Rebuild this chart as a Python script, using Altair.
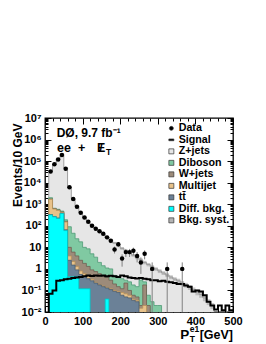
import json
import altair as alt
import pandas as pd

FONT = "Liberation Sans"

# ---------------- data (10 GeV bins, lower edges 0..490) ----------------
bin_lo = list(range(0, 500, 10))

# stack tops (cumulative, from bottom: Diff. bkg, ttbar, Multijet, W+jets, Diboson, Z+jets)
zjets_top = [0, 35000, 75000, 130000, 210000, 48000, 6500, 1800, 800, 420,
             250, 160, 105, 75, 55, 40, 30, 22, 16, 12,
             9, 7, 5.5, 4.3, 3.3, 2.6, 2.0, 1.6, 1.25, 1.0,
             0.8, 0.65, 0.52, 0.42, 0.34, 0.28, 0.22, 0.18, 0.14, 0.11,
             0.085, 0.065, 0.045, 0.03, 0.02, 0.008, 0, 0, 0, 0]
diboson_top = [0, 2000, 650, 580, 480, 190, 90, 45, 25, 18,
               10, 8.5, 5, 3.5, 2.0, 1.4, 1.1, 1.0, 0.5, 0.45,
               0.35, 0.3, 0.25, 0.18, 0.15, 0.3, 0.25, 0.06, 0.03, 0.02,
               0.02, 0, 0, 0, 0, 0, 0, 0, 0, 0,
               0, 0, 0, 0, 0, 0, 0, 0, 0, 0]
wjets_top = [0, 1750, 620, 540, 440, 160, 10, 6, 4, 2.5,
             1.8, 1.3, 0.9, 0.75, 0.6, 0.45, 0.4, 0.3, 0.2, 0.15,
             0.12, 0.22, 0.1, 0.06, 0.05, 0.02, 0.18, 0.02, 0, 0,
             0, 0, 0, 0, 0, 0, 0, 0, 0, 0,
             0, 0, 0, 0, 0, 0, 0, 0, 0, 0]
multijet_top = [0, 1700, 600, 520, 420, 150, 4, 2.2, 1.3, 0.8,
                0.6, 0.45, 0.33, 0.24, 0.19, 0.16, 0.14, 0.12, 0.1, 0.09,
                0.08, 0.07, 0.06, 0.04, 0.035, 0.015, 0.02, 0, 0, 0,
                0, 0, 0, 0, 0, 0, 0, 0, 0, 0,
                0, 0, 0, 0, 0, 0, 0, 0, 0, 0]
ttbar_top = [0, 330, 270, 230, 380, 65, 2.5, 1.5, 0.9, 0.55,
             0.45, 0.35, 0.28, 0.22, 0.18, 0.15, 0.13, 0.11, 0.09, 0.08,
             0.06, 0.05, 0.045, 0.035, 0.03, 0, 0, 0, 0, 0,
             0, 0, 0, 0, 0, 0, 0, 0, 0, 0,
             0, 0, 0, 0, 0, 0, 0, 0, 0, 0]
diffbkg_top = [0, 320, 260, 220, 370, 60, 0.43, 0.43, 0.43, 0.12,
               0.12, 0.12, 0, 0, 0, 0, 0.04, 0, 0, 0,
               0, 0, 0, 0, 0, 0, 0, 0, 0, 0,
               0, 0, 0, 0, 0, 0, 0, 0, 0, 0,
               0, 0, 0, 0, 0, 0, 0, 0, 0, 0]
signal = [0, 0.07, 0.1, 0.28, 0.3, 0.33, 0.35, 0.38, 0.4, 0.42,
          0.45, 0.5, 0.47, 0.5, 0.48, 0.5, 0.45, 0.48, 0.45, 0.42,
          0.5, 0.45, 0.4, 0.38, 0.36, 0.38, 0.35, 0.33, 0.3, 0.3,
          0.27, 0.28, 0.25, 0.24, 0.22, 0.2, 0.2, 0.17, 0.15, 0.09,
          0.1, 0.09, 0.06, 0.03, 0.02, 0.013, 0.02, 0.012, 0.02, 0.012]
data_counts = [0, 33000, 72000, 120000, 190000, 44000, 6100, 1750, 770, 400,
               245, 155, 100, 72, 56, 43, 29, 20, 8, 14,
               3, 6, 6, 7, 4, 2, 5, 0, 1, 0,
               0, 0, 1, 0, 0, 0, 1, 0, 0, 0,
               0, 0, 0, 0, 0, 0, 0, 0, 0, 0]
syst_frac = [0.08] * 15 + [0.12] * 5 + [0.15] * 5 + [0.18] * 5 + [0.2] * 5 + [0.25] * 5 + [0.3] * 10

# axis ticks / labels
y_major = [1e-2, 1e-1, 1, 10, 1e2, 1e3, 1e4, 1e5, 1e6, 1e7]
y_labels = ["10⁻²", "10⁻¹", "1", "10", "10²", "10³", "10⁴", "10⁵", "10⁶", "10⁷"]
y_minor = [m * 10.0 ** e for e in range(-2, 7) for m in range(2, 10)]
x_major = [0, 100, 200, 300, 400, 500]
x_minor = [20, 40, 60, 80, 120, 140, 160, 180, 220, 240, 260, 280, 320, 340, 360, 380, 420, 440, 460, 480]

# legend
legend_labels = ["Data", "Signal", "Z+jets", "Diboson", "W+jets", "Multijet", "tt̄", "Diff. bkg.", "Bkg. syst."]
legend_colors = ["#000000", "#000000", "#e6e6e6", "#80c9a2", "#9c8b7a", "#e8c28a", "#6b8197", "#00ffff", "#b4b4b4"]
CIRCLE = "M-0.8,0A0.8,0.8 0 1,0 0.8,0A0.8,0.8 0 1,0 -0.8,0Z"
BAR = "M-1,-0.35H1V0.35H-1Z"
legend_shapes = [CIRCLE, BAR] + ["square"] * 7

# annotations (x in GeV, y in events)
ann_text = ["DØ, 9.7 fb⁻¹", "ee", "+", "E", "/", "T"]
ann_x = [31, 32, 88, 138, 144, 162]
ann_y = [1.31e6, 2.6e5, 2.6e5, 2.6e5, 2.6e5, 1.9e5]
ann_size = [12, 12.5, 12.5, 12.5, 12.5, 8.5]

xt_text = ["P", "e1", "T", "[GeV]"]
xt_x = [360, 385, 385, 500]
xt_px = [221, 213.5, 224, 221]
xt_size = [13.5, 8.5, 8.5, 12.5]
xt_align = ["left", "left", "left", "right"]

# ---------------- build tables ----------------
FLOOR = 1e-5
W, H = 188, 194


def stepvals(vals):
    v = [x if x > 0 else FLOOR for x in vals]
    return v + [v[-1]]


stack_df = pd.DataFrame({
    "x": bin_lo + [500],
    "base": FLOOR,
    "z": stepvals(zjets_top),
    "db": stepvals(diboson_top),
    "wj": stepvals(wjets_top),
    "mj": stepvals(multijet_top),
    "tt": stepvals(ttbar_top),
    "df": stepvals(diffbkg_top),
    "sig": stepvals(signal),
})

band_df = pd.DataFrame({
    "lo": bin_lo,
    "hi": [b + 10 for b in bin_lo],
    "tot": zjets_top,
    "f": syst_frac,
})
band_df = band_df[band_df.tot > 0].copy()
band_df["ylo"] = band_df.tot * (1 - band_df.f)
band_df["yhi"] = band_df.tot * (1 + band_df.f)

data_df = pd.DataFrame({"c": [b + 5 for b in bin_lo], "n": data_counts})
data_df = data_df[data_df.n > 0].copy()
data_df["elo"] = [max(n - n ** 0.5, FLOOR) for n in data_df.n]
data_df["ehi"] = [n + n ** 0.5 for n in data_df.n]

ann_df = pd.DataFrame({"t": ann_text, "x": ann_x, "y": ann_y, "s": ann_size})
xt_df = pd.DataFrame({"t": xt_text, "x": xt_x, "py": xt_px, "s": xt_size, "a": xt_align})
leg_df = pd.DataFrame({"label": legend_labels, "x": [0] * 9, "y": [1e-7] * 9})

xscale = alt.Scale(domain=[0, 500], nice=False, zero=False)
yscale = alt.Scale(type="log", domain=[1e-2, 1e7], nice=False)

label_expr = json.dumps(y_labels, ensure_ascii=False) + "[round(log(datum.value)/LN10)+2]"

main_y = alt.Axis(orient="left", values=y_major, labelExpr=label_expr, ticks=False, domain=False, grid=False,
                  labelFont=FONT, labelFontSize=11, labelFontWeight="bold", labelColor="black",
                  labelPadding=4, labelOverlap=False,
                  title="Events/10 GeV", titleFont=FONT, titleFontSize=12, titleFontWeight="bold",
                  titleColor="black", titleAngle=270, titleX=-28, titleY=5, titleAlign="right",
                  titleBaseline="middle")
main_x = alt.Axis(orient="bottom", values=x_major, ticks=False, domain=False, grid=False,
                  labelFont=FONT, labelFontSize=11, labelFontWeight="bold", labelColor="black",
                  labelPadding=3, labelFlush=False, labelOverlap=False, title=None)


def tick_axis(orient, values, size):
    return alt.Axis(orient=orient, values=values, labels=False, domain=False, grid=False, ticks=True,
                    tickSize=size, offset=-size, tickColor="black", tickWidth=1, title=None)


def area_layer(field, fill, stroke, xaxis, yaxis):
    return alt.Chart(stack_df).mark_area(
        interpolate="step-after", fill=fill, stroke=stroke, strokeWidth=0.8, clip=True, opacity=1
    ).encode(
        x=alt.X("x:Q", scale=xscale, axis=xaxis),
        y=alt.Y(f"{field}:Q", scale=yscale, axis=yaxis),
        y2="base:Q",
    )


layers = [
    area_layer("z", "#e6e6e6", "#8c8c8c", main_x, main_y),
    area_layer("db", "#80c9a2", "#4f9a76", tick_axis("bottom", x_major, 6), tick_axis("left", y_major, 6)),
    area_layer("wj", "#9c8b7a", "#6e5f52", tick_axis("bottom", x_minor, 3), tick_axis("left", y_minor, 3)),
    area_layer("mj", "#e8c28a", "#b8925a", tick_axis("top", x_major, 6), tick_axis("right", y_major, 6)),
    area_layer("tt", "#6b8197", "#4a5d70", tick_axis("top", x_minor, 3), tick_axis("right", y_minor, 3)),
    area_layer("df", "#00ffff", "#00c4c4", None, None),
]

band = alt.Chart(band_df).mark_rect(fill="#9a9a9a", opacity=0.55, clip=True).encode(
    x=alt.X("lo:Q", scale=xscale, axis=None), x2="hi:Q",
    y=alt.Y("ylo:Q", scale=yscale, axis=None), y2="yhi:Q")

sig = alt.Chart(stack_df).mark_line(interpolate="step-after", color="black", strokeWidth=2, clip=True).encode(
    x=alt.X("x:Q", scale=xscale, axis=None),
    y=alt.Y("sig:Q", scale=yscale, axis=None))

err = alt.Chart(data_df).mark_rule(color="#808080", strokeWidth=1, clip=True).encode(
    x=alt.X("c:Q", scale=xscale, axis=None),
    y=alt.Y("elo:Q", scale=yscale, axis=None), y2="ehi:Q")

pts = alt.Chart(data_df).mark_circle(color="black", size=20, opacity=1, clip=True).encode(
    x=alt.X("c:Q", scale=xscale, axis=None),
    y=alt.Y("n:Q", scale=yscale, axis=None))

ann = alt.Chart(ann_df).mark_text(align="left", baseline="alphabetic", font=FONT, fontWeight="bold",
                                  color="black").encode(
    x=alt.X("x:Q", scale=xscale, axis=None),
    y=alt.Y("y:Q", scale=yscale, axis=None),
    text="t:N", size=alt.Size("s:Q", scale=None))

xt_layers = []
for al in ["left", "right"]:
    xt_layers.append(
        alt.Chart(xt_df[xt_df.a == al]).mark_text(align=al, baseline="alphabetic", font=FONT,
                                                  fontWeight="bold", color="black").encode(
            x=alt.X("x:Q", scale=xscale, axis=None),
            y=alt.Y("py:Q", scale=None, axis=None),
            text="t:N", size=alt.Size("s:Q", scale=None)))

leg_props = dict(title=None, orient="none", legendX=121, legendY=5, labelFont=FONT, labelFontWeight="bold",
                 labelFontSize=10.7, labelColor="black", symbolSize=25, symbolStrokeColor="#333333",
                 symbolStrokeWidth=0.7, rowPadding=-0.5, labelOffset=2, padding=0, labelLimit=200)
leg = alt.Chart(leg_df).mark_point(filled=True, opacity=1, clip=True).encode(
    x=alt.X("x:Q", scale=xscale, axis=None),
    y=alt.Y("y:Q", scale=yscale, axis=None),
    color=alt.Color("label:N", scale=alt.Scale(domain=legend_labels, range=legend_colors),
                    legend=alt.Legend(**leg_props)),
    shape=alt.Shape("label:N", scale=alt.Scale(domain=legend_labels, range=legend_shapes),
                    legend=alt.Legend(**leg_props)))

chart = alt.layer(*layers, band, sig, err, pts, ann, *xt_layers, leg).resolve_axis(
    x="independent", y="independent"
).properties(
    width=W, height=H,
    autosize=alt.AutoSizeParams(type="none"),
    padding={"left": 37, "top": 110, "right": 25, "bottom": 31},
    background="white",
).configure_view(stroke="black", strokeWidth=1.3)

chart.save("out.html", embed_options={"renderer": "svg", "actions": False})
